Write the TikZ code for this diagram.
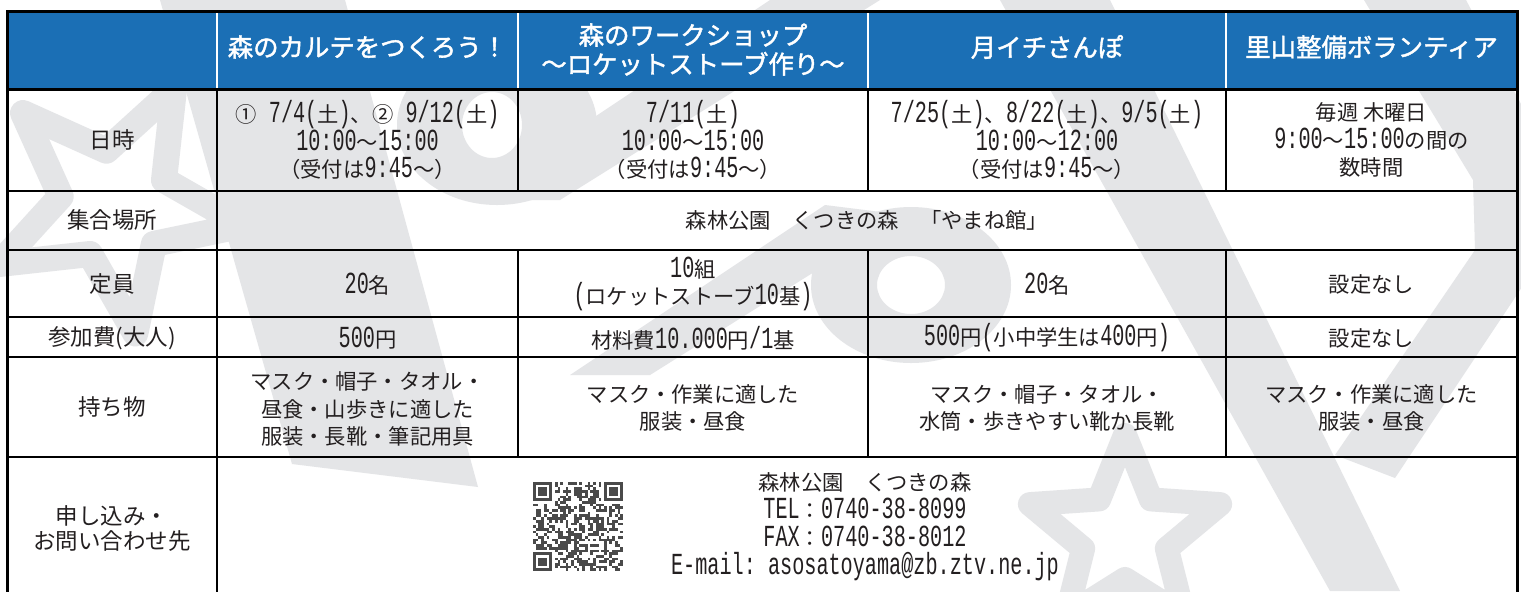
\documentclass[tikz,border=0pt]{standalone}
\usepackage{fontspec}
\setmainfont{Liberation Serif}
\newfontfamily\jp{Noto Sans CJK JP}
\newfontfamily\jph[FakeBold=1.6]{Noto Sans CJK JP}
\newfontfamily\latf[FakeStretch=0.66]{Liberation Mono}
\newcommand\nm[1]{{\latf\fontsize{15.3}{13.75}\selectfont #1}}
\definecolor{hdr}{HTML}{1B6FB5}
\definecolor{wmc}{HTML}{E4E5E7}
\definecolor{ink}{HTML}{231F20}
\definecolor{qrc}{HTML}{4A4A4A}
\tikzset{
 hd/.style={text=white, font={\jph\fontsize{12.7}{14.5}\selectfont}, align=center, inner sep=0pt},
 lab/.style={text=ink, font={\jp\fontsize{11.25}{12.5}\selectfont\lineskiplimit=-20pt}, align=center, inner sep=0pt},
 cell/.style={text=ink, font={\jp\fontsize{10.65}{13.75}\selectfont\lineskiplimit=-20pt}, align=center, inner sep=0pt},
 contact/.style={text=ink, font={\jp\fontsize{10.65}{14}\selectfont\lineskiplimit=-20pt}, align=center, inner sep=0pt},
 gridline/.style={draw=black, line width=1pt},
 outerline/.style={draw=black, line width=1.5pt},
 wmshape/.style={fill=wmc},
 wmstar/.style={draw=wmc, line join=round},
 qrmod/.style={fill=qrc},
}
\begin{document}
\begin{tikzpicture}[x=0.5pt,y=-0.5pt]
\useasboundingbox (0,0) rectangle (1521,591);
\fill[white] (0,0) rectangle (1521,591);
% ---- watermark ----
\begin{scope}
\clip (0,0) rectangle (1521,591);
\draw[wmstar, line width=13pt, shift={(115,205)}] (225:130) -- (261:55) -- (297:130) -- (333:55) -- (9:130) -- (45:55) -- (81:130) -- (117:55) -- (153:130) -- (189:55) -- cycle;
\fill[wmshape] (160,0) -- (345,0) -- (478,487) -- (292,464) -- cycle;
\fill[wmshape, even odd rule] (497,125) ellipse [x radius=100, y radius=80] (492,125) ellipse [x radius=30, y radius=33];
\fill[wmshape] (770,0) -- (880,0) -- (560,200) -- (470,200) -- cycle;
\fill[wmshape] (570,375) -- (650,375) -- (905,215) -- (825,205) -- cycle;
\fill[wmshape, even odd rule] (911,285) ellipse [x radius=100, y radius=78] (911,285) ellipse [x radius=34, y radius=29];
\fill[wmshape] (1000,0) -- (1110,0) -- (1400,591) -- (1330,591) -- cycle;
\fill[wmshape] (1364,0) -- (1466,0) -- (1540,140) -- (1540,260) -- (1395,478) -- (1335,455) -- (1475,250) -- (1473,180) -- cycle;
\draw[wmstar, line width=12pt, shift={(1125,535)}] (270:100) -- (306:44) -- (342:100) -- (18:44) -- (54:100) -- (90:44) -- (126:100) -- (162:44) -- (198:100) -- (234:44) -- cycle;
\end{scope}
% ---- header ----
\fill[hdr] (7,11) rectangle (1517,89);
\foreach \x in {217,518,868,1226} \draw[white, line width=1pt] (\x,11) -- (\x,89);
% ---- grid ----
\draw[outerline] (7,89) -- (1517,89);
\foreach \y in {191,250,317,357,457} \draw[gridline] (7,\y) -- (1517,\y);
\draw[gridline] (217,89) -- (217,600);
\foreach \x in {518,868,1226} {
  \draw[gridline] (\x,89) -- (\x,191);
  \draw[gridline] (\x,250) -- (\x,457);
}
\draw[outerline] (7,600) -- (7,11) -- (1517,11) -- (1517,600);
% ---- header texts ----
\node[hd] (h1) at (367.5,47) {森のカルテをつくろう！};
\node[hd] (h2) at (693,49.5) {森のワークショップ\\～ロケットストーブ作り～};
\node[hd] (h3) at (1047,47) {月イチさんぽ};
\node[hd] (h4) at (1371.5,47) {里山整備ボランティア};
% ---- row labels ----
\node[lab] (l1) at (112,140) {日時};
\node[lab] (l2) at (112,220) {集合場所};
\node[lab] (l3) at (112,284) {定員};
\node[lab] (l4) at (112,338) {参加費(大人)};
\node[lab] (l5) at (112,407) {持ち物};
\node[lab] (l6) at (112,528.5) {申し込み・\\お問い合わせ先};
% ---- cells ----
\node[cell] (d1) at (367.5,140) {①\nm{\ 7/4(}土\nm{)}、②\nm{\ 9/12(}土\nm{)}\\\nm{10:00}～\nm{15:00}\\（受付は\nm{9:45}～）};
\node[cell] (d2) at (693,140) {\nm{7/11(}土\nm{)}\\\nm{10:00}～\nm{15:00}\\（受付は\nm{9:45}～）};
\node[cell] (d3) at (1047,140) {\nm{7/25(}土\nm{)}、\nm{8/22(}土\nm{)}、\nm{9/5(}土\nm{)}\\\nm{10:00}～\nm{12:00}\\（受付は\nm{9:45}～）};
\node[cell] (d4) at (1371.5,140) {毎週\ 木曜日\\\nm{9:00}～\nm{15:00}の間の\\数時間};
\node[cell] (p1) at (867,220) {森林公園　くつきの森　「やまね館」};
\node[cell] (c1) at (367.5,284) {\nm{20}名};
\node[cell] (c2) at (693,284) {\nm{10}組\\\nm{(}ロケットストーブ\nm{10}基\nm{)}};
\node[cell] (c3) at (1047,284) {\nm{20}名};
\node[cell] (c4) at (1371.5,284) {設定なし};
\node[cell] (f1) at (367.5,338) {\nm{500}円};
\node[cell] (f2) at (693,338) {材料費\nm{10.000}円\nm{/1}基};
\node[cell] (f3) at (1047,338) {\nm{500}円\nm{(}小中学生は\nm{400}円\nm{)}};
\node[cell] (f4) at (1371.5,338) {設定なし};
\node[cell] (m1) at (367.5,409) {マスク・帽子・タオル・\\昼食・山歩きに適した\\服装・長靴・筆記用具};
\node[cell] (m2) at (693,408) {マスク・作業に適した\\服装・昼食};
\node[cell] (m3) at (1047,408) {マスク・帽子・タオル・\\水筒・歩きやすい靴か長靴};
\node[cell] (m4) at (1371.5,408) {マスク・作業に適した\\服装・昼食};
\node[contact] (k1) at (865,527) {森林公園　くつきの森\\\nm{TEL}：\nm{0740-38-8099}\\\nm{FAX}：\nm{0740-38-8012}\\\nm{E-mail:\ asosatoyama@zb.ztv.ne.jp}};
% ---- QR code ----
\pgfmathsetseed{4242}
\foreach \i in {0,...,32}{
  \foreach \j in {0,...,32}{
    \pgfmathtruncatemacro\sk{((\i<8)&&(\j<8))||((\i>24)&&(\j<8))||((\i<8)&&(\j>24))}
    \pgfmathrandominteger{\rr}{0}{99}
    \ifnum\sk=0 \ifnum\rr<48 \fill[qrmod] (533+2.73*\i,482+2.7*\j) rectangle ++(2.73,2.7); \fi\fi
  }
}
\foreach \a/\b in {0/0,26/0,0/26}{
  \fill[qrmod] (533+2.73*\a,482+2.7*\b) rectangle ++(19.1,18.9);
  \fill[white] (533+2.73*\a+2.73,482+2.7*\b+2.7) rectangle ++(13.65,13.5);
  \fill[qrmod] (533+2.73*\a+5.46,482+2.7*\b+5.4) rectangle ++(8.19,8.1);
}
\end{tikzpicture}
\end{document}
